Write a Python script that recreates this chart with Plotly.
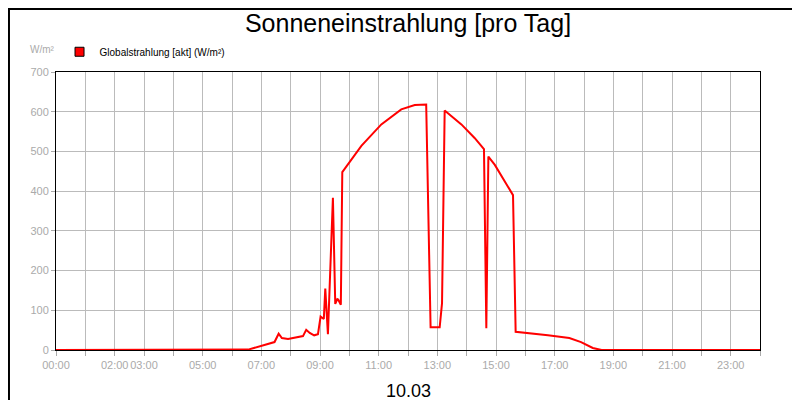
import plotly.graph_objects as go

# hours of day and global radiation (W/m²)
hours = [0, 5.86, 6.55, 7.45, 7.59, 7.7, 7.91, 8.42, 8.53, 8.65, 8.8, 8.93, 9.02, 9.13, 9.18,
         9.27, 9.44, 9.52, 9.59, 9.62, 9.71, 9.76, 10.41, 11.09, 11.77, 12.23, 12.62, 12.77,
         13.08, 13.16, 13.25, 13.82, 14.27, 14.59, 14.67, 14.74, 14.96, 15.58, 15.67, 16.77,
         17.5, 17.9, 18.3, 18.6, 24]
radiation = [0, 0, 1, 20, 41, 30, 28, 35, 51, 43, 37, 40, 84, 78, 155,
             40, 383, 116, 128, 127, 114, 448, 514, 568, 606, 617, 618, 57,
             57, 118, 603, 568, 534, 506, 55, 487, 466, 390, 46, 37,
             30, 20, 5, 0, 0]

tick_hours = [0, 2, 3, 5, 7, 9, 11, 13, 15, 17, 19, 21, 23]
tick_text = ["00:00", "02:00", "03:00", "05:00", "07:00", "09:00", "11:00",
             "13:00", "15:00", "17:00", "19:00", "21:00", "23:00"]

fig = go.Figure()
fig.add_scatter(x=hours, y=radiation, mode="lines", showlegend=False,
                line=dict(color="#ff0000", width=2))
# legend entry with square marker
fig.add_scatter(x=[None], y=[None], mode="markers", name="Globalstrahlung [akt] (W/m²)",
                marker=dict(symbol="square", size=9, color="#ff0000",
                            line=dict(color="black", width=1)))

fig.update_layout(
    width=800, height=400,
    margin=dict(l=48, r=48, t=64, b=58, autoexpand=False),
    paper_bgcolor="white", plot_bgcolor="white",
    font=dict(family="Liberation Sans, Arial", size=11, color="#aaaaaa"),
    title=dict(text="Sonneneinstrahlung [pro Tag]", x=0.5, y=0.985, yanchor="top",
               font=dict(size=25, color="black")),
    showlegend=True,
    legend=dict(x=0.005, y=1.125, xanchor="left", yanchor="top", orientation="h",
                font=dict(size=10, color="black"), itemwidth=30,
                bgcolor="rgba(0,0,0,0)"),
    xaxis=dict(range=[0, 24], tickvals=tick_hours, ticktext=tick_text, tickangle=0,
               automargin=False,
               showgrid=False, ticks="outside", tickcolor="#aaaaaa", ticklen=5,
               minor=dict(dtick=1, showgrid=True, gridcolor="#bbbbbb", ticks="outside",
                          tickcolor="#aaaaaa", ticklen=5),
               showline=True, linecolor="black", mirror=True, zeroline=False),
    yaxis=dict(range=[0, 700], dtick=100, gridcolor="#bbbbbb", ticks="outside",
               automargin=False,
               tickcolor="#aaaaaa", ticklen=4, showline=True, linecolor="black",
               mirror=True, zeroline=False),
    shapes=[dict(type="rect", xref="paper", yref="paper", x0=-0.0668, x1=1.0668,
                 y0=-0.205, y1=1.2266, line=dict(color="black", width=2))],
    annotations=[
        dict(text="W/m²", xref="paper", yref="paper", x=-0.04, y=1.055, showarrow=False,
             xanchor="left", yanchor="bottom", font=dict(size=10, color="#aaaaaa")),
        dict(text="10.03", xref="paper", yref="paper", x=0.5, y=-0.19, showarrow=False,
             yanchor="bottom", font=dict(size=18, color="black")),
    ],
)

fig.write_html("out.html")
